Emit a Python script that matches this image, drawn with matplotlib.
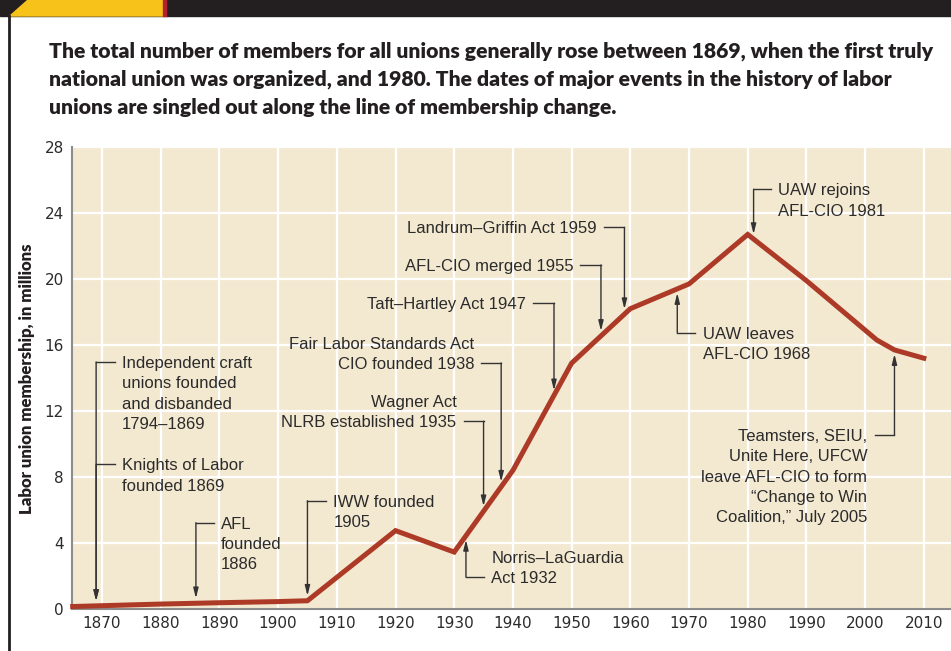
import numpy as np
import matplotlib
matplotlib.use("Agg")
from matplotlib import pyplot as plt
from matplotlib.patches import Polygon, Rectangle

# membership in millions
years = [1865, 1870, 1880, 1890, 1900, 1905, 1920, 1930, 1940, 1950, 1960, 1970, 1980, 1990, 2000, 2002, 2005, 2010]
members = [0.15, 0.2, 0.3, 0.38, 0.45, 0.5, 4.75, 3.45, 8.4, 14.9, 18.2, 19.7, 22.7, 19.9, 16.9, 16.3, 15.7, 15.2]

x_ticks = list(range(1870, 2011, 10))
y_ticks = list(range(0, 29, 4))

title_lines = [
    "The total number of members for all unions generally rose between 1869, when the first truly",
    "national union was organized, and 1980. The dates of major events in the history of labor",
    "unions are singled out along the line of membership change.",
]
y_label = "Labor union membership, in millions"

# events: year, text lines
event_years = [1869, 1869, 1886, 1905, 1932, 1935, 1938, 1947, 1955, 1959, 1968, 1981, 2005]
event_texts = [
    ["Independent craft", "unions founded", "and disbanded", "1794\u20131869"],
    ["Knights of Labor", "founded 1869"],
    ["AFL", "founded", "1886"],
    ["IWW founded", "1905"],
    ["Norris\u2013LaGuardia", "Act 1932"],
    ["Wagner Act", "NLRB established 1935"],
    ["Fair Labor Standards Act", "CIO founded 1938"],
    ["Taft\u2013Hartley Act 1947"],
    ["AFL-CIO merged 1955"],
    ["Landrum\u2013Griffin Act 1959"],
    ["UAW leaves", "AFL-CIO 1968"],
    ["UAW rejoins", "AFL-CIO 1981"],
    ["Teamsters, SEIU,", "Unite Here, UFCW", "leave AFL-CIO to form",
     "\u201cChange to Win", "Coalition,\u201d July 2005"],
]
# layout: text x, y of first line, side (left/right), leader line index, arrow direction
label_layout = [
    (1873.4, 14.97, "left", 0, "down"),
    (1873.4, 8.77, "left", 0, "down"),
    (1890.3, 5.23, "left", 0, "down"),
    (1909.4, 6.56, "left", 0, "down"),
    (1936.3, 3.17, "left", 1, "up"),
    (1930.4, 12.61, "right", 1, "down"),
    (1933.4, 16.14, "right", 1, "down"),
    (1942.2, 18.53, "right", 0, "down"),
    (1950.3, 20.85, "right", 0, "down"),
    (1954.3, 23.13, "right", 0, "down"),
    (1972.3, 16.75, "left", 0, "up"),
    (1985.2, 25.44, "left", 0, "down"),
    (2000.4, 10.55, "right", 0, "up"),
]

line_color = "#AC3A27"
bg_color = "#F3E8D0"
text_color = "#2B2B2B"
lead_color = "#333333"
font = "Liberation Sans"

W, H = 951, 651
fig = plt.figure(figsize=(W / 100, H / 100), dpi=100)

# header bar and frame
fig.add_artist(Rectangle((0, 1 - 16 / H), 1, 16 / H, transform=fig.transFigure, color="#231F20", zorder=0))
fig.add_artist(Polygon([(10 / W, 1 - 16 / H), (28 / W, 1), (163 / W, 1), (163 / W, 1 - 16 / H)],
                       closed=True, transform=fig.transFigure, color="#F7C21A", zorder=1))
fig.add_artist(Rectangle((163 / W, 1 - 16 / H), 3 / W, 16 / H, transform=fig.transFigure, color="#B5202E", zorder=1))
fig.add_artist(plt.Line2D([9 / W, 9 / W], [0, 1 - 16 / H], transform=fig.transFigure, color="#231F20", lw=2))

for i, line in enumerate(title_lines):
    fig.text(49 / W, 1 - (57.3 + i * 28.4) / H, line, family="Lato", weight="heavy",
             fontsize=15.2, color="#231F20", va="baseline", ha="left")

fig.text(27 / W, 1 - 379 / H, y_label, family="Lato", weight="heavy", fontsize=12.1,
         rotation=90, va="center", ha="center", color="#231F20")

ax = fig.add_axes([72 / W, 42 / H, (W - 72) / W, 462 / H])
ax.set_facecolor(bg_color)
ax.set_xlim(1864.89, 2014.63)
ax.set_ylim(0, 28)
ax.set_xticks(x_ticks)
ax.set_yticks(y_ticks)
ax.grid(True, color="white", lw=1.6)
ax.set_axisbelow(True)
for s in ["top", "right"]:
    ax.spines[s].set_visible(False)
for s in ["left", "bottom"]:
    ax.spines[s].set_color("#8C8C8C")
    ax.spines[s].set_linewidth(1.5)
ax.tick_params(length=0, labelsize=11, colors=text_color, pad=5)
ax.tick_params(axis="y", pad=6)
for lab in ax.get_xticklabels() + ax.get_yticklabels():
    lab.set_family("DejaVu Sans")

ax.plot(years, members, color=line_color, lw=3.6, solid_joinstyle="miter", zorder=3, clip_on=False)

line_step = 1.23   # spacing of text lines, data units
gap = 1.2          # gap between text and leader, years
for yr, lines, (tx, ty, side, lead_i, direc) in zip(event_years, event_texts, label_layout):
    for k, s in enumerate(lines):
        ax.text(tx, ty - k * line_step, s, family=font, fontsize=12, color=text_color,
                ha=side, va="center_baseline", zorder=4)
    ly = ty - lead_i * line_step
    x0 = tx - gap if side == "left" else tx + gap
    ax.plot([x0, yr], [ly, ly], color=lead_color, lw=1, zorder=4)
    on_line = np.interp(yr, years, members)
    tip = on_line + 0.3 if direc == "down" else on_line - 0.25
    ax.annotate("", xy=(yr, tip), xytext=(yr, ly),
                arrowprops=dict(arrowstyle="-|>,head_length=0.6,head_width=0.15", mutation_scale=10,
                                color=lead_color, lw=1, shrinkA=0, shrinkB=0), zorder=4)

fig.savefig("out.png", dpi=100)
